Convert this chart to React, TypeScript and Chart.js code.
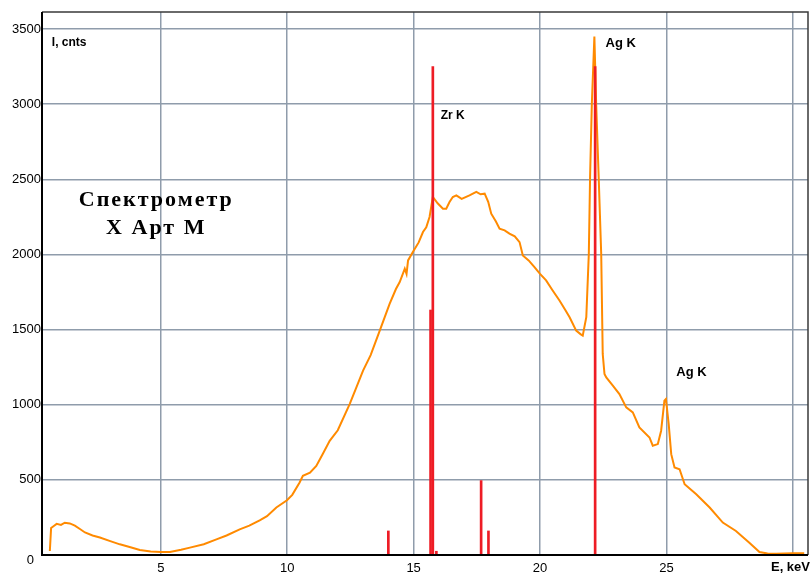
import React, { useEffect, useRef } from "react";
import { Chart, registerables } from "chart.js";

Chart.register(...registerables);

// Spectrum (orange) – energy in keV and counts
const energy = [
  0.61, 0.66, 0.78, 0.88, 1.05, 1.2, 1.4, 1.6, 1.8, 2.0, 2.3, 2.59, 3.0, 3.38, 3.8, 4.17, 4.6, 5.0, 5.36,
  5.8, 6.15, 6.7, 7.2, 7.6, 8.12, 8.5, 8.91, 9.2, 9.57, 9.99, 10.2, 10.49, 10.62, 10.9, 11.15, 11.4, 11.68,
  12.0, 12.47, 12.7, 13.0, 13.3, 13.66, 14.05, 14.3, 14.45, 14.65, 14.72, 14.78, 14.97, 15.2, 15.37, 15.5,
  15.63, 15.76, 15.95, 16.16, 16.29, 16.42, 16.55, 16.69, 16.9, 17.21, 17.48, 17.65, 17.81, 17.95, 18.07,
  18.25, 18.4, 18.6, 18.79, 19.0, 19.19, 19.32, 19.55, 19.78, 20.0, 20.24, 20.5, 20.77, 21.0, 21.17, 21.43,
  21.6, 21.69, 21.83, 21.93, 21.98, 22.05, 22.15, 22.22, 22.32, 22.42, 22.48, 22.55, 22.62, 22.88, 23.14,
  23.41, 23.67, 23.93, 24.33, 24.46, 24.66, 24.79, 24.92, 24.98, 25.09, 25.19, 25.32, 25.52, 25.72, 26.18,
  26.71, 27.23, 27.75, 28.28, 28.68, 29.0, 29.34, 30.0, 30.45,
];
const counts = [
  27, 180, 195, 207, 200, 215, 210, 195, 173, 150, 130, 116, 92, 71, 52, 33, 24, 20, 20,
  35, 49, 72, 104, 130, 171, 195, 231, 258, 316, 364, 400, 482, 527, 548, 593, 670, 760,
  830, 1004, 1100, 1227, 1330, 1493, 1671, 1770, 1816, 1905, 1870, 1960, 2016, 2080, 2149, 2180,
  2249, 2382, 2340, 2304, 2304, 2349, 2382, 2393, 2370, 2393, 2416, 2400, 2404, 2350, 2271,
  2220, 2171, 2160, 2138, 2120, 2082, 1993, 1960, 1916, 1870, 1827, 1760, 1693, 1630, 1582, 1493,
  1470, 1460, 1582, 2004, 2516, 3004, 3449, 3004, 2516, 2004, 1338, 1204, 1182, 1127, 1071,
  982, 949, 849, 782, 727, 738, 827, 1027, 1038, 871, 671, 582, 571, 471, 404,
  316, 216, 160, 82, 20, 10, 9, 12, 12,
];

// Reference line positions (red sticks)
const lineEnergy = [14.0, 15.67, 15.76, 15.9, 17.67, 17.96, 22.18];
const lineHeight = [160, 1630, 3250, 25, 495, 160, 3250];

// Axis ticks
const xTicks = [5, 10, 15, 20, 25, 30];
const yTicks = [0, 500, 1000, 1500, 2000, 2500, 3000, 3500];

// Annotations
const SANS_B12 = "bold 12px 'Liberation Sans', Arial, sans-serif";
const SANS_B13 = "bold 13px 'Liberation Sans', Arial, sans-serif";
const SERIF_B22 = "bold 22px 'Liberation Serif', 'Times New Roman', serif";
const labels = [
  { text: "I, cnts", x: 0.69, y: 3407, font: SANS_B12, align: "left", spacing: 0 },
  { text: "Zr K", x: 16.07, y: 2920, font: SANS_B12, align: "left", spacing: 0 },
  { text: "Ag K", x: 22.59, y: 3403, font: SANS_B13, align: "left", spacing: 0 },
  { text: "Ag K", x: 25.39, y: 1213, font: SANS_B13, align: "left", spacing: 0 },
  { text: "Спектрометр", x: 4.82, y: 2360, font: SERIF_B22, align: "center", spacing: 2 },
  { text: "X Арт М", x: 4.82, y: 2173, font: SERIF_B22, align: "center", spacing: 2 },
];

const TICK_FONT = { family: "'Liberation Sans', Arial, sans-serif", size: 13 };

export default function App() {
  const ref = useRef<HTMLCanvasElement | null>(null);

  useEffect(() => {
    if (!ref.current) return;

    const framePlugin = {
      id: "frame",
      beforeDraw(chart: any) {
        const c = chart.ctx;
        c.save();
        c.fillStyle = "#ffffff";
        c.fillRect(0, 0, chart.width, chart.height);
        c.restore();
      },
      afterDraw(chart: any) {
        const c = chart.ctx;
        const a = chart.chartArea;
        const xs = chart.scales.x;
        const ys = chart.scales.y;
        c.save();
        // frame
        c.strokeStyle = "#3a3a3a";
        c.lineWidth = 1.5;
        c.beginPath();
        c.moveTo(a.left, a.top);
        c.lineTo(a.right, a.top);
        c.lineTo(a.right, a.bottom);
        c.stroke();
        c.strokeStyle = "#000";
        c.lineWidth = 2;
        c.beginPath();
        c.moveTo(a.left, a.top);
        c.lineTo(a.left, a.bottom);
        c.lineTo(a.right, a.bottom);
        c.stroke();
        // annotations
        c.fillStyle = "#000";
        c.textBaseline = "middle";
        for (const l of labels) {
          c.font = l.font;
          (c as any).letterSpacing = l.spacing + "px";
          c.textAlign = l.align as CanvasTextAlign;
          c.fillText(l.text, xs.getPixelForValue(l.x), ys.getPixelForValue(l.y));
        }
        (c as any).letterSpacing = "0px";
        // zero label of the y axis (sits lower, in the corner)
        c.font = "13px 'Liberation Sans', Arial, sans-serif";
        c.textAlign = "right";
        c.fillText(String(yTicks[0]), a.left - 8, ys.getPixelForValue(yTicks[0]) + 5);
        // axis title
        c.font = SANS_B13;
        c.textAlign = "right";
        c.fillText("E, keV", chart.width - 2, a.bottom + 12.5);
        c.restore();
      },
    };

    const chart = new Chart(ref.current, {
      type: "line",
      data: {
        datasets: [
          {
            type: "line",
            data: energy.map((e, i) => ({ x: e, y: counts[i] })),
            borderColor: "#ff8a00",
            borderWidth: 2,
            pointRadius: 0,
            tension: 0,
            fill: false,
            order: 2,
          } as any,
          {
            type: "bar",
            data: lineEnergy.map((e, i) => ({ x: e, y: lineHeight[i] })),
            backgroundColor: "#ee1c25",
            borderWidth: 0,
            barThickness: 2,
            grouped: false,
            order: 1,
          } as any,
        ],
      },
      options: {
        responsive: false,
        animation: false,
        events: [],
        layout: { padding: { top: 12, right: 4, left: 0, bottom: 0 } },
        plugins: { legend: { display: false }, tooltip: { enabled: false } },
        scales: {
          x: {
            type: "linear",
            min: 0.3,
            max: 30.6,
            offset: false,
            afterBuildTicks: (s: any) => {
              s.ticks = xTicks.map((v) => ({ value: v }));
            },
            afterFit: (s: any) => {
              s.height = 19;
            },
            grid: { color: "#8f9cab", lineWidth: 1.5, drawTicks: false, offset: false },
            border: { display: false },
            ticks: {
              color: "#000",
              font: TICK_FONT,
              padding: 6,
              maxRotation: 0,
              autoSkip: false,
              callback: (v: any) => (v === 30 ? "" : String(v)),
            },
          },
          y: {
            type: "linear",
            min: 0,
            max: 3613,
            afterBuildTicks: (s: any) => {
              s.ticks = yTicks.map((v) => ({ value: v }));
            },
            afterFit: (s: any) => {
              s.width = 42;
            },
            grid: { color: "#8f9cab", lineWidth: 1.5, drawTicks: false },
            border: { display: false },
            ticks: {
              color: "#000",
              font: TICK_FONT,
              padding: 1,
              autoSkip: false,
              callback: (v: any) => (v === 0 ? "" : String(v)),
            },
          },
        },
      } as any,
      plugins: [framePlugin],
    });

    return () => chart.destroy();
  }, []);

  return (
    <div style={{ position: "fixed", left: 0, top: 0, width: 812, height: 574, background: "#fff" }}>
      <canvas ref={ref} width={812} height={574} />
    </div>
  );
}
